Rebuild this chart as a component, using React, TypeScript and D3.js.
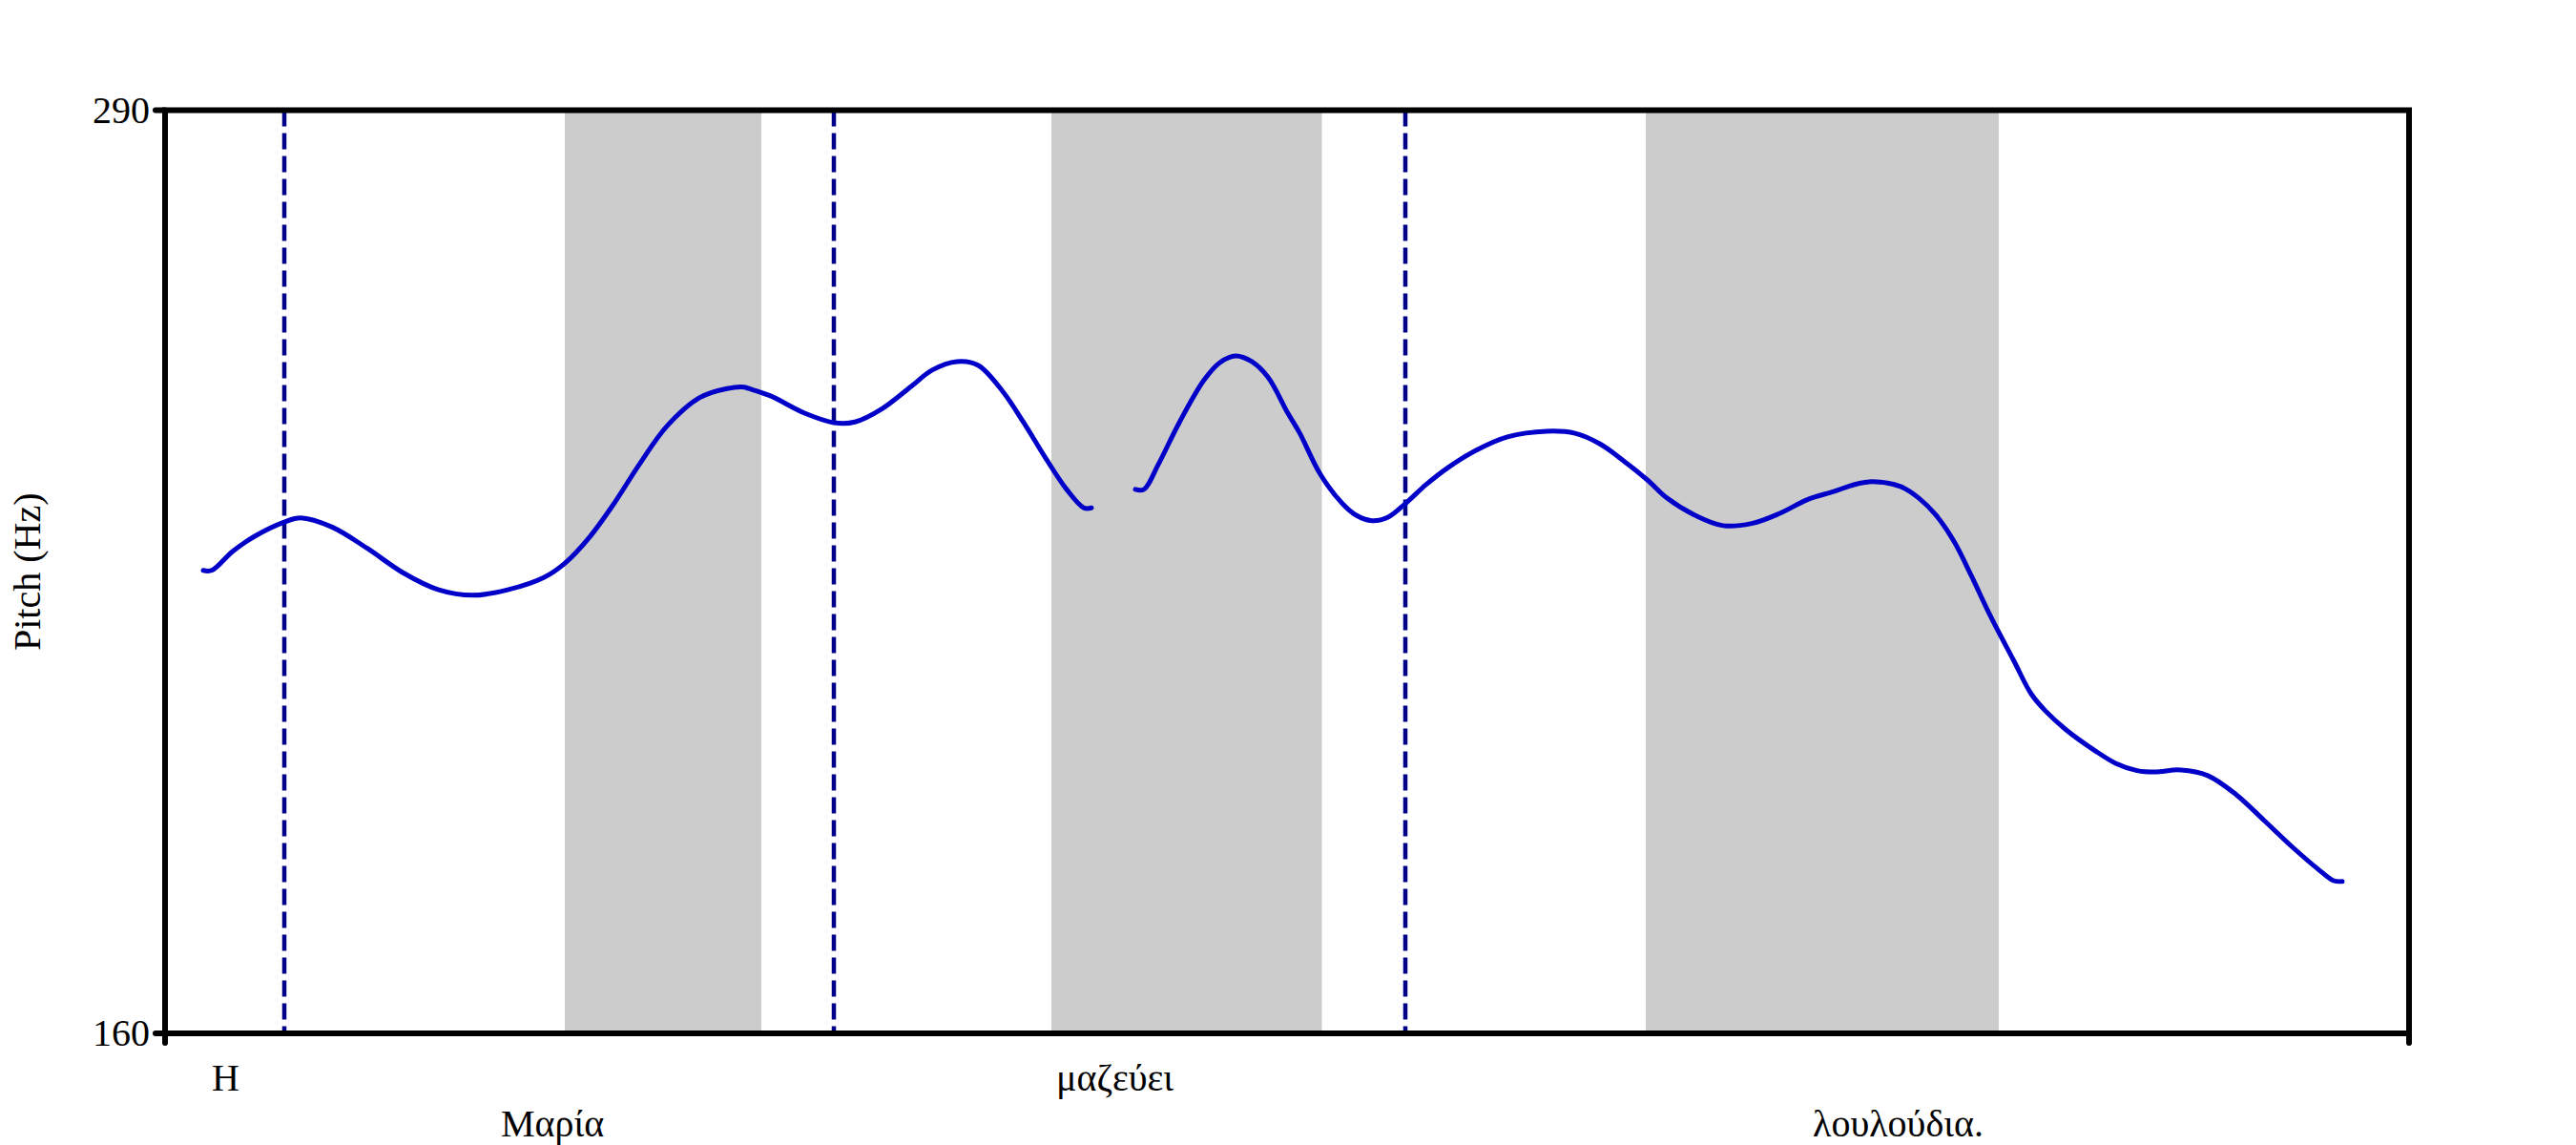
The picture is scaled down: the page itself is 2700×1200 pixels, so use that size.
import React from "react";
import * as d3 from "d3";

// ---- data ----
const yTicks = [160, 290];
const timeDomain = [0, 2.352];
const pitchDomain = [160, 290];

const seg1Time = [0.040, 0.049, 0.071, 0.094, 0.125, 0.142, 0.175, 0.212, 0.249, 0.286, 0.323, 0.360, 0.397, 0.419, 0.445, 0.471, 0.497, 0.526, 0.560, 0.589, 0.607, 0.612, 0.634, 0.671, 0.701, 0.723, 0.752, 0.782, 0.804, 0.830, 0.852, 0.878, 0.900, 0.923, 0.945, 0.963, 0.971];
const seg1Hz = [225.2, 225.2, 227.9, 230.0, 232.0, 232.6, 231.3, 228.3, 224.9, 222.5, 221.7, 222.5, 224.2, 226.2, 229.9, 234.7, 240.1, 245.5, 249.5, 250.8, 251.0, 250.8, 249.8, 247.3, 246.0, 246.1, 248.0, 251.1, 253.4, 254.6, 254.1, 250.4, 246.0, 241.0, 236.6, 234.0, 234.0];

const seg2Time = [1.017, 1.026, 1.041, 1.063, 1.089, 1.106, 1.122, 1.139, 1.156, 1.177, 1.189, 1.211, 1.234, 1.248, 1.265, 1.282, 1.300, 1.322, 1.345, 1.374, 1.407, 1.448, 1.478, 1.504, 1.529, 1.554, 1.574, 1.603, 1.633, 1.663, 1.692, 1.722, 1.749, 1.771, 1.790, 1.819, 1.838, 1.856, 1.875, 1.893, 1.912, 1.938, 1.956, 1.971, 1.993, 2.023, 2.045, 2.067, 2.086, 2.112, 2.141, 2.171, 2.200, 2.230, 2.256, 2.273, 2.282];
const seg2Hz = [236.6, 236.6, 240.1, 246.0, 252.0, 254.5, 255.4, 254.6, 252.4, 247.3, 244.6, 238.7, 234.6, 233.0, 232.2, 232.7, 234.6, 237.3, 239.7, 242.1, 244.0, 244.8, 244.5, 243.0, 240.6, 237.9, 235.4, 233.0, 231.5, 231.8, 233.2, 235.2, 236.3, 237.3, 237.7, 237.0, 235.4, 233.0, 229.3, 224.5, 219.1, 212.4, 207.8, 205.4, 202.7, 199.8, 198.0, 197.0, 196.8, 197.1, 196.3, 193.6, 190.0, 186.2, 183.2, 181.5, 181.4];

const bandStart = [0.419, 0.929, 1.552];
const bandEnd = [0.625, 1.2125, 1.922];

const boundaryTimes = [0.125, 0.701, 1.300];

const wordText = ["Η", "Μαρία", "μαζεύει", "λουλούδια."];
const wordTime = [0.049, 0.352, 0.934, 1.727];
const wordRow = [0, 1, 0, 1];

const yLabel = "Pitch (Hz)";

// ---- layout ----
const W = 2700;
const H = 1200;
const M = { left: 173, right: 2525, top: 115.5, bottom: 1083 };
const FONT = "'Liberation Serif', 'Times New Roman', serif";

export default function App() {
  const x = d3.scaleLinear().domain(timeDomain).range([M.left, M.right]);
  const y = d3.scaleLinear().domain(pitchDomain).range([M.bottom, M.top]);

  const line = d3
    .line<[number, number]>()
    .x((d) => x(d[0]))
    .y((d) => y(d[1]))
    .curve(d3.curveCatmullRom.alpha(0.5));

  const seg1 = seg1Time.map((t, i) => [t, seg1Hz[i]] as [number, number]);
  const seg2 = seg2Time.map((t, i) => [t, seg2Hz[i]] as [number, number]);

  const rowBaseline = [1143, 1191];

  return (
    <svg
      width={W}
      height={H}
      style={{ position: "absolute", left: 0, top: 0, display: "block", background: "#fff" }}
    >
      <rect x={0} y={0} width={W} height={H} fill="#fff" />
      {bandStart.map((s, i) => (
        <rect
          key={"b" + i}
          x={x(s)}
          y={M.top}
          width={x(bandEnd[i]) - x(s)}
          height={M.bottom - M.top}
          fill="#cccccc"
        />
      ))}
      {boundaryTimes.map((t, i) => (
        <line
          key={"d" + i}
          x1={x(t)}
          x2={x(t)}
          y1={M.top}
          y2={M.bottom}
          stroke="#000088"
          strokeWidth={4.5}
          strokeDasharray="17,7"
        />
      ))}
      {[seg1, seg2].map((s, i) => (
        <path
          key={"s" + i}
          d={line(s) || ""}
          fill="none"
          stroke="#0000c8"
          strokeWidth={5}
          strokeLinejoin="round"
          strokeLinecap="round"
        />
      ))}
      <rect
        x={M.left}
        y={M.top}
        width={M.right - M.left}
        height={M.bottom - M.top}
        fill="none"
        stroke="#000"
        strokeWidth={6}
      />
      {yTicks.map((v) => (
        <g key={"yt" + v}>
          <line x1={M.left - 10} x2={M.left} y1={y(v)} y2={y(v)} stroke="#000" strokeWidth={6} strokeLinecap="round" />
          <text x={157} y={y(v) + 13} textAnchor="end" fontFamily={FONT} fontSize={40} fill="#000">
            {v}
          </text>
        </g>
      ))}
      {timeDomain.map((t, i) => (
        <line
          key={"xt" + i}
          x1={x(t)}
          x2={x(t)}
          y1={M.bottom}
          y2={M.bottom + 10}
          stroke="#000"
          strokeWidth={6}
          strokeLinecap="round"
        />
      ))}
      {wordText.map((w, i) => (
        <text
          key={"w" + i}
          x={x(wordTime[i])}
          y={rowBaseline[wordRow[i]]}
          fontFamily={FONT}
          fontSize={40}
          fill="#000"
        >
          {w}
        </text>
      ))}
      <text
        transform={`translate(42, ${(M.top + M.bottom) / 2}) rotate(-90)`}
        textAnchor="middle"
        fontFamily={FONT}
        fontSize={40}
        fill="#000"
      >
        {yLabel}
      </text>
    </svg>
  );
}
